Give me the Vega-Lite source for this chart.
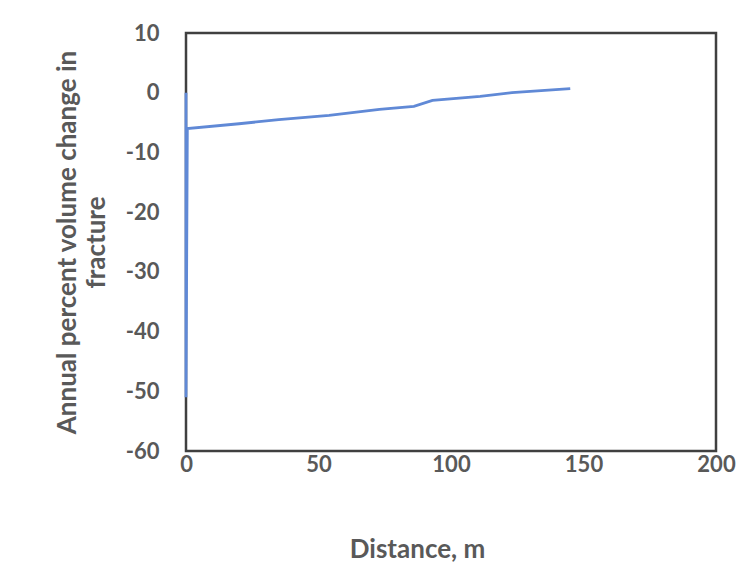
{
  "$schema": "https://vega.github.io/schema/vega-lite/v6.json",
  "width": 530,
  "height": 418,
  "autosize": {"type": "none"},
  "padding": {"left": 186, "top": 33, "right": 35, "bottom": 111},
  "background": "white",
  "config": {
    "view": {"stroke": "#404040", "strokeWidth": 2.5},
    "axis": {
      "labelFont": "Lato",
      "titleFont": "Lato",
      "labelColor": "#595959",
      "titleColor": "#595959",
      "labelFontSize": 22,
      "titleFontSize": 26,
      "labelFontWeight": "bold",
      "titleFontWeight": "bold",
      "labelFlush": false,
      "grid": false,
      "ticks": false,
      "domain": false
    }
  },
  "data": {
    "values": [
      {"order": 1, "distance": 0, "change": 0},
      {"order": 2, "distance": 0, "change": -51},
      {"order": 3, "distance": 0.5, "change": -6},
      {"order": 4, "distance": 20, "change": -5.2},
      {"order": 5, "distance": 35, "change": -4.5},
      {"order": 6, "distance": 54, "change": -3.8},
      {"order": 7, "distance": 73, "change": -2.8},
      {"order": 8, "distance": 86, "change": -2.3},
      {"order": 9, "distance": 93, "change": -1.3},
      {"order": 10, "distance": 111, "change": -0.6},
      {"order": 11, "distance": 123, "change": 0},
      {"order": 12, "distance": 145, "change": 0.7}
    ]
  },
  "mark": {"type": "line", "color": "#6089d6", "strokeWidth": 2.8},
  "encoding": {
    "x": {
      "field": "distance",
      "type": "quantitative",
      "scale": {"domain": [0, 200], "nice": false},
      "axis": {
        "values": [0, 50, 100, 150, 200],
        "labelExpr": "toString(datum.value)",
        "labelPadding": 3,
        "title": "Distance, m",
        "titlePadding": 61,
        "titleX": 231
      }
    },
    "y": {
      "field": "change",
      "type": "quantitative",
      "scale": {"domain": [-60, 10], "nice": false},
      "axis": {
        "values": [-60, -50, -40, -30, -20, -10, 0, 10],
        "labelExpr": "toString(datum.value)",
        "labelPadding": 27,
        "title": ["Annual percent volume change in", "fracture"],
        "titlePadding": 16,
        "titleLineHeight": 29
      }
    },
    "order": {"field": "order", "type": "quantitative"}
  }
}
